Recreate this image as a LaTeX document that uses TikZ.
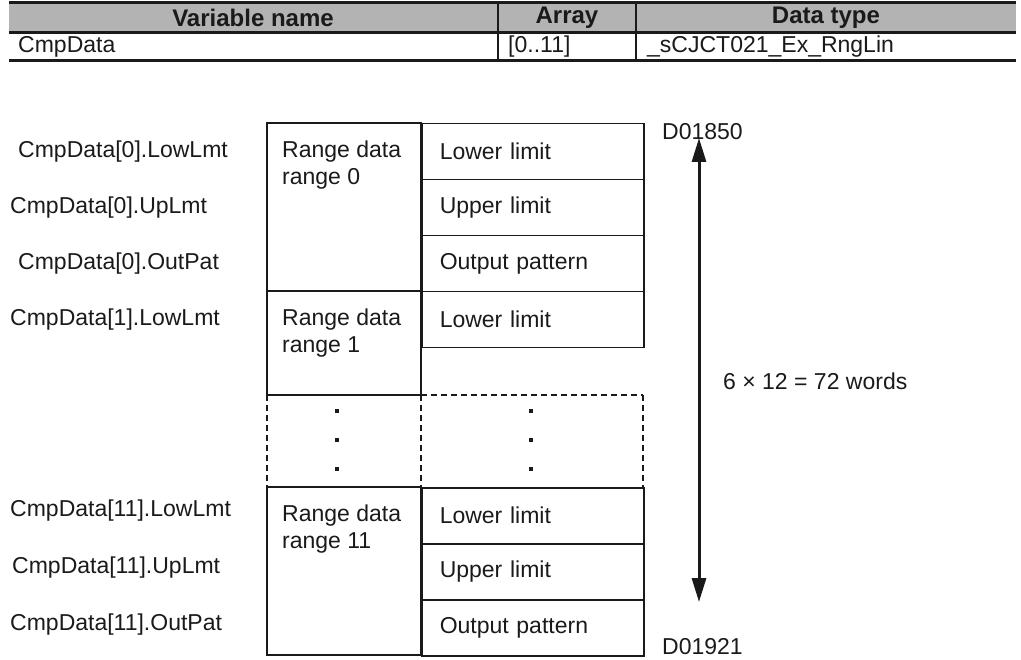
\documentclass[tikz,border=0pt]{standalone}
\usepackage{fontspec}
\setmainfont{Liberation Sans}
\usetikzlibrary{positioning,arrows.meta,calc}
\definecolor{ink}{HTML}{1A1A1A}
\definecolor{hdr}{HTML}{B3B3B3}

\begin{document}
\begin{tikzpicture}[x=1pt,y=-1pt,
  txt/.style={text=ink,font=\fontsize{23}{27}\selectfont,inner sep=0pt},
  hdrtxt/.style={txt,font=\fontsize{24}{28}\selectfont\bfseries},
  cellbox/.style={draw=ink,line width=1.5pt},
  fieldbox/.style={cellbox,txt,anchor=north west,minimum width=222pt,minimum height=56pt,
    text width=186pt,inner xsep=18pt,align=left},
  gapline/.style={draw=ink,line width=1.5pt,dash pattern=on 6pt off 4pt}]
\useasboundingbox (0,0) rectangle (1021,660);
\fill[hdr] (9,3) rectangle (1016,33);
\draw[ink,line width=3pt] (9,3) -- (1016,3);
\draw[ink,line width=3pt] (9,33) -- (1016,33);
\draw[ink,line width=3pt] (9,61) -- (1016,61);
\draw[ink,line width=2pt] (498,3) -- (498,61);
\draw[ink,line width=2pt] (636,3) -- (636,61);
\node[hdrtxt] (hvar) at (253,18) {Variable name};
\node[hdrtxt] (harr) at (567,18) {Array};
\node[hdrtxt] (htyp) at (826,18) {Data type};
\node[txt,anchor=west] (var) at (18,47) {CmpData};
\node[txt,anchor=west] (arr) at (508,47) {[0..11]};
\node[txt,anchor=west] (typ) at (647,47) {\_sCJCT021\_Ex\_RngLin};

\draw[cellbox] (267,123) rectangle (421,291);
\draw[cellbox] (267,291) rectangle (421,395);
\draw[cellbox] (267,487) rectangle (421,655);
\node[txt,anchor=west,align=left] (rng0) at (282,165) {Range data\\range 0};
\node[txt,anchor=west,align=left] (rng1) at (282,333) {Range data\\range 1};
\node[txt,anchor=west,align=left] (rng11) at (282,529) {Range data\\range 11};

\node[fieldbox] (lo0) at (421,123) {Lower limit};
\node[fieldbox] (up0) at (421,179) {Upper limit};
\node[fieldbox] (out0) at (421,235) {Output pattern};
\node[fieldbox] (lo1) at (421,291) {Lower limit};
\node[fieldbox] (lo11) at (421,487) {Lower limit};
\node[fieldbox] (up11) at (421,543) {Upper limit};
\node[fieldbox] (out11) at (421,599) {Output pattern};

\draw[gapline] (267,395) -- (267,487);
\draw[gapline] (421,395) -- (421,487);
\draw[gapline] (643,395) -- (643,487);
\draw[gapline] (421,395) -- (643,395);
\foreach \y in {409,438,467} {
  \fill[ink] (335,\y) rectangle ++(4,4);
  \fill[ink] (529,\y) rectangle ++(4,4);
}

\node[txt,anchor=west] (l0lo) at (18,152) {CmpData[0].LowLmt};
\node[txt,anchor=west] (l0up) at (10,208) {CmpData[0].UpLmt};
\node[txt,anchor=west] (l0out) at (18,264) {CmpData[0].OutPat};
\node[txt,anchor=west] (l1lo) at (10,320) {CmpData[1].LowLmt};
\node[txt,anchor=west] (l11lo) at (10,511) {CmpData[11].LowLmt};
\node[txt,anchor=west] (l11up) at (12,568) {CmpData[11].UpLmt};
\node[txt,anchor=west] (l11out) at (10,625) {CmpData[11].OutPat};

\node[txt,anchor=west] (dtop) at (662,132) {D01850};
\node[txt,anchor=west] (dbot) at (662,647) {D01921};
\coordinate (atop) at (699,138);
\coordinate (abot) at (699,602);
\draw[ink,line width=3pt,{Triangle[length=24pt,width=14pt]}-{Triangle[length=24pt,width=14pt]}] (atop) -- (abot);
\node[txt,anchor=west] (words) at (723,381) {6 × 12 = 72 words};
\end{tikzpicture}
\end{document}
